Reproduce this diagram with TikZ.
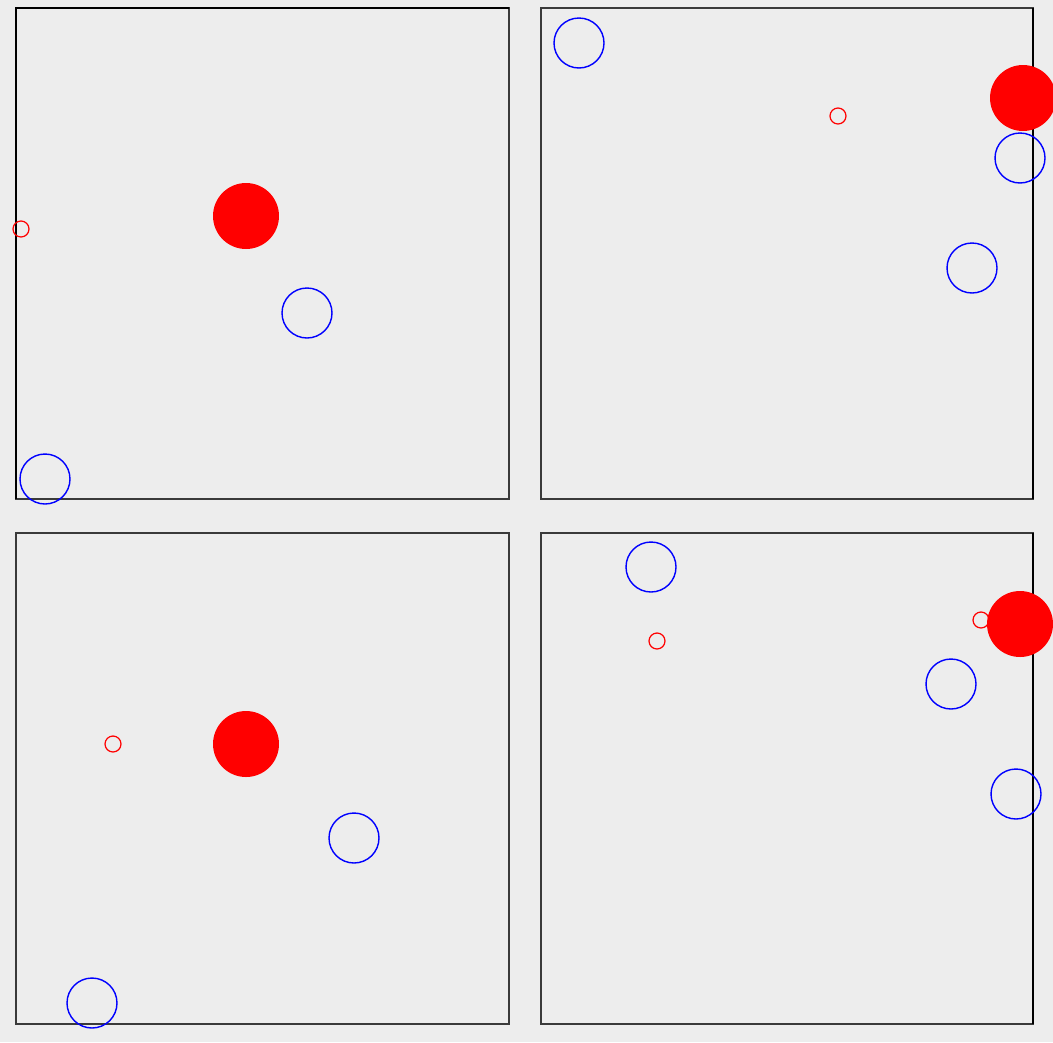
\documentclass[tikz,border=0pt]{standalone}
\usepackage{xcolor}
\definecolor{canvas}{HTML}{EDEDED}
\definecolor{frame}{HTML}{3A3A3A}
\definecolor{ballred}{HTML}{FF0000}
\definecolor{ringblue}{HTML}{0000FF}
\usepackage{tikz}

\begin{document}
\begin{tikzpicture}[
  x=0.02cm, y=-0.02cm,
  panel/.style={draw=frame,line width=1.1pt},
  edge/.style={draw=black,line width=1.4pt},
  bigball/.style={circle,fill=ballred,inner sep=0pt,minimum size=1.32cm},
  smallring/.style={circle,draw=ballred,line width=0.7pt,inner sep=0pt,minimum size=0.32cm},
  bluering/.style={circle,draw=ringblue,line width=0.8pt,inner sep=0pt,minimum size=1.0cm}]
  \fill[canvas] (0,0) rectangle (1053,1042);
  \useasboundingbox (0,0) rectangle (1053,1042);
  % panels
  \draw[panel] (16,8) rectangle (509,499);
  \draw[panel] (541,8) rectangle (1033,499);
  \draw[panel] (16,533) rectangle (509,1024);
  \draw[panel] (541,533) rectangle (1033,1024);
  \draw[edge] (16,499) -- (16,8) -- (509,8);
  \draw[edge] (1033,8) -- (1033,499);
  \draw[edge] (1033,533) -- (1033,1024);
  % top left
  \node[bigball] (tlball) at (246,216) {};
  \node[smallring] (tlsmall) at (21,229) {};
  \node[bluering] (tlringa) at (307,313) {};
  \node[bluering] (tlringb) at (45,479) {};
  % top right
  \node[bluering] (trringa) at (579,43) {};
  \node[smallring] (trsmall) at (838,116) {};
  \node[bigball] (trball) at (1023,98) {};
  \node[bluering] (trringb) at (1020,158) {};
  \node[bluering] (trringc) at (972,268) {};
  % bottom left
  \node[smallring] (blsmall) at (113,744) {};
  \node[bigball] (blball) at (246,744) {};
  \node[bluering] (blringa) at (354,838) {};
  \node[bluering] (blringb) at (92,1003) {};
  % bottom right
  \node[bluering] (brringa) at (651,567) {};
  \node[smallring] (brsmalla) at (657,641) {};
  \node[smallring] (brsmallb) at (981,620) {};
  \node[bigball] (brball) at (1020,624) {};
  \node[bluering] (brringb) at (951,684) {};
  \node[bluering] (brringc) at (1016,794) {};
\end{tikzpicture}
\end{document}
